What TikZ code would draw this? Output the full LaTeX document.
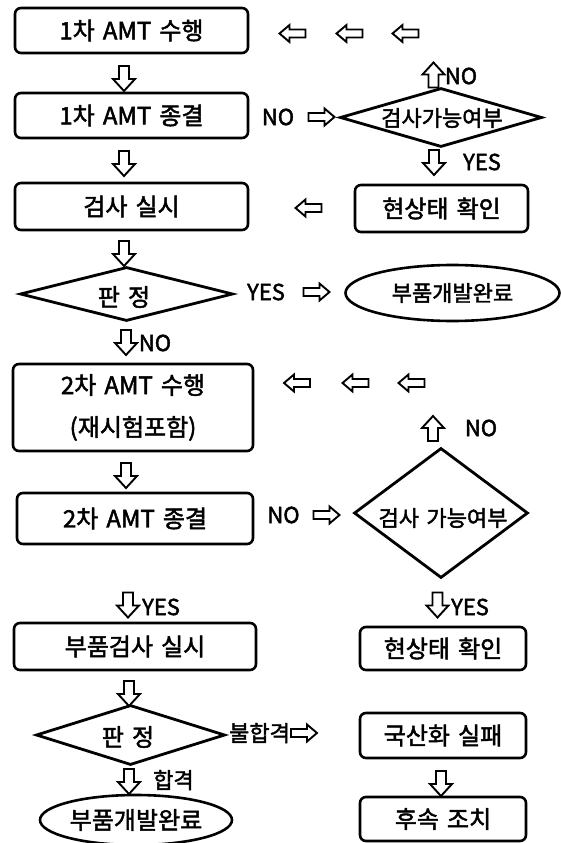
\documentclass[tikz,border=0pt]{standalone}
\usepackage{fontspec}
\setmainfont{Noto Sans CJK KR}[WordSpace=1.5, FakeBold=2]
\usetikzlibrary{shapes.geometric}
\begin{document}
\begin{tikzpicture}[x=1pt,y=-1pt,
  every node/.style={font=\fontsize{24pt}{28pt}\selectfont, inner sep=0pt},
  small/.style={font=\fontsize{22pt}{26pt}\selectfont},
  box/.style={draw, line width=2.6pt, rounded corners=6pt},
  dia/.style={draw, diamond, line width=2.8pt, inner sep=0pt},
  ell/.style={draw, ellipse, line width=2.6pt, inner sep=0pt},
  hl/.pic={\draw[line width=1.9pt, line join=miter, fill=white]
     (-13,0) -- (-3,-8.5) -- (-3,-4) -- (13,-4) -- (13,4) -- (-3,4) -- (-3,8.5) -- cycle;},
  vd/.pic={\draw[line width=1.9pt, line join=miter, fill=white]
     (0,12.5) -- (-11,0.5) -- (-5,0.5) -- (-5,-12.5) -- (5,-12.5) -- (5,0.5) -- (11,0.5) -- cycle;}
]
\useasboundingbox (0,0) rectangle (561,843);

% left column
\node[box, minimum width=233pt, minimum height=45pt] (b1) at (131.5,30.5) {1차 AMT 수행};
\node[box, minimum width=233pt, minimum height=45pt] (b2) at (131.5,115.5) {1차 AMT 종결};
\node[box, minimum width=233pt, minimum height=47pt] (b3) at (131.5,206.5) {검사 실시};
\node[dia, minimum width=213pt, minimum height=54pt] (d2) at (126.5,294) {};
\node (d2t) at (124,297) {판 정};
\node[box, minimum width=240pt, minimum height=87pt, align=center] (b4) at (133,407.5) {2차 AMT 수행\\[14pt](재시험포함)};
\node[box, minimum width=236pt, minimum height=51pt] (b5) at (135,518.5) {2차 AMT 종결};
\node[box, minimum width=242pt, minimum height=47pt] (b6) at (135,646.5) {부품검사 실시};
\node[dia, minimum width=189pt, minimum height=60pt] (d4) at (130.5,735) {};
\node (d4t) at (128,737) {판 정};
\node[ell, minimum width=192pt, minimum height=50pt] (e2) at (136,820) {부품개발완료};

% right column
\node[dia, minimum width=202pt, minimum height=59pt] (d1) at (441,117.5) {};
\node[small] (d1t) at (442,118) {검사가능여부};
\node[box, minimum width=173pt, minimum height=47pt] (r1) at (441.5,208.5) {현상태 확인};
\node[ell, small, minimum width=214pt, minimum height=56pt] (e1) at (452.5,293) {부품개발완료};
\node[dia, minimum width=174pt, minimum height=130pt] (d3) at (441,513) {};
\node[small] (d3t) at (443,518) {검사 가능여부};
\node[box, minimum width=166pt, minimum height=43pt] (r2) at (443,648.5) {현상태 확인};
\node[box, minimum width=166pt, minimum height=45pt] (r3) at (443,735.5) {국산화 실패};
\node[box, minimum width=166pt, minimum height=44pt] (r4) at (443,819) {후속 조치};

% labels
\node[small] (no1) at (278,117) {NO};
\node[small] (no2) at (461,76) {NO};
\node[small] (yes1) at (482,162) {YES};
\node[small] (yes2) at (266,292) {YES};
\node[small] (no3) at (155,343) {NO};
\node[small] (no4) at (481,428) {NO};
\node[small] (no5) at (283.5,515) {NO};
\node[small] (yes3) at (161,607) {YES};
\node[small] (yes4) at (470,607) {YES};
\node[small] (fail) at (259.5,733) {불합격};
\node[small] (pass) at (173.5,780) {합격};

% hollow block arrows
\pic (l1) at (292.5,33.5) {hl};
\pic (l2) at (349.5,33.5) {hl};
\pic (l3) at (405.5,33.5) {hl};
\pic (l4) at (308.5,208) {hl};
\pic (l5) at (297,383) {hl};
\pic (l6) at (355.5,383) {hl};
\pic (l7) at (411.5,383) {hl};
\pic[rotate=180] (r1a) at (321.5,117) {hl};
\pic[rotate=180] (r2a) at (316.5,292) {hl};
\pic[rotate=180] (r3a) at (326.5,515) {hl};
\pic[rotate=180] (r4a) at (304,733) {hl};
\pic (v1) at (124,78.5) {vd};
\pic (v2) at (124,163.5) {vd};
\pic (v3) at (124,253.5) {vd};
\pic (v4) at (126,342.5) {vd};
\pic (v5) at (126,475.5) {vd};
\pic (v6) at (128,605) {vd};
\pic (v7) at (129,693.5) {vd};
\pic (v8) at (129,781.5) {vd};
\pic (v9) at (434,162.5) {vd};
\pic (v10) at (437.5,605) {vd};
\pic (v11) at (441,783.5) {vd};
\pic[rotate=180] (u1) at (433.5,75) {vd};
\pic[rotate=180] (u2) at (433,428.5) {vd};
\end{tikzpicture}
\end{document}
